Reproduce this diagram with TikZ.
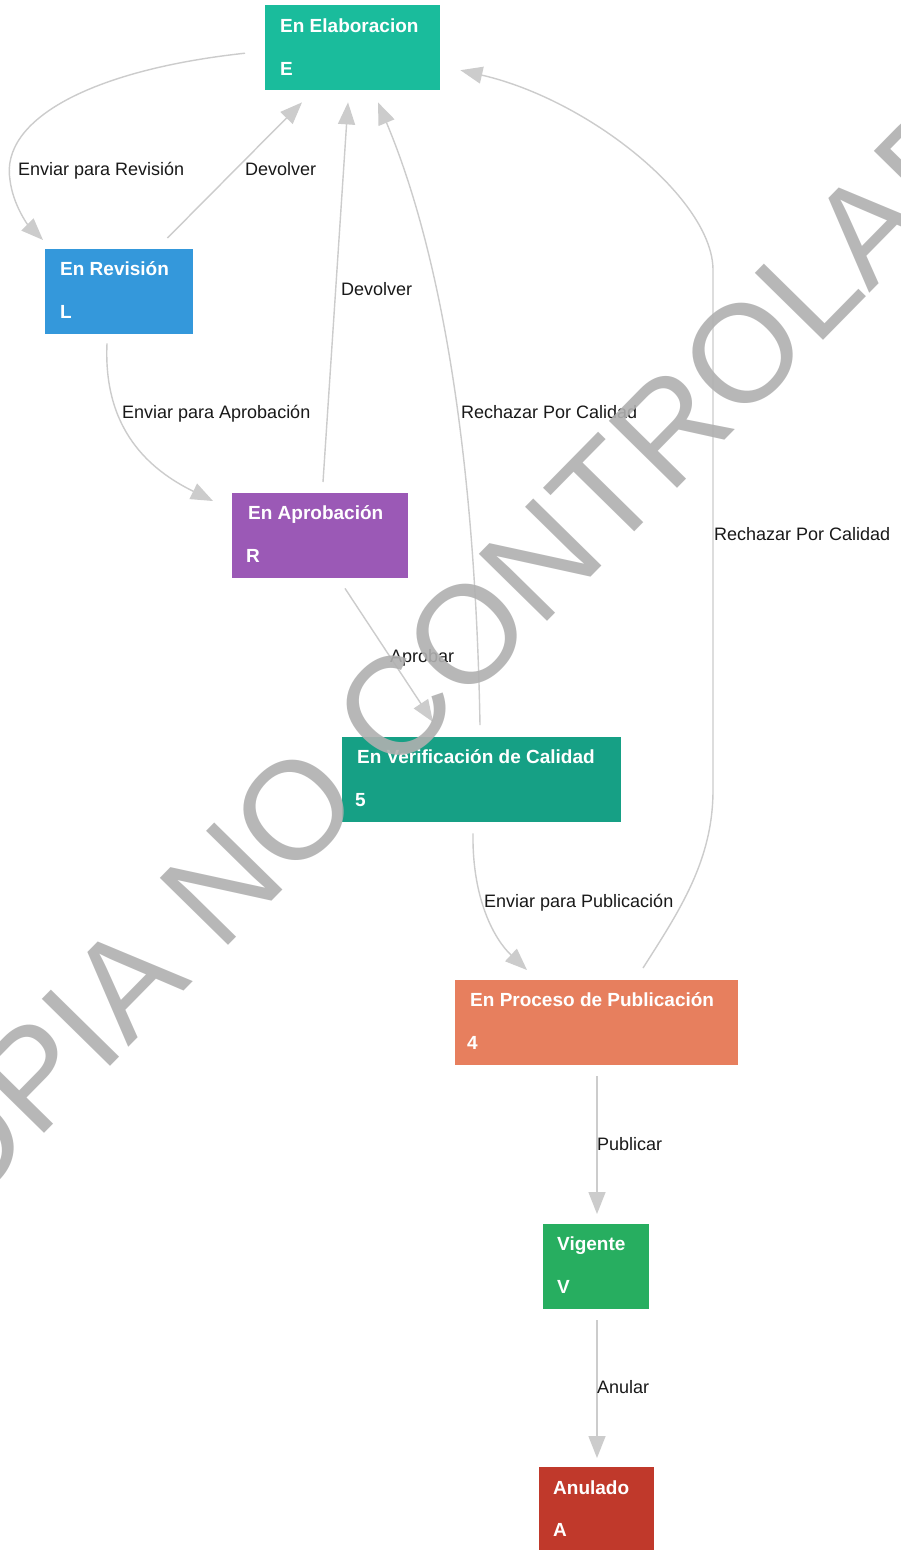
\documentclass[tikz,border=0pt]{standalone}
\usepackage{fontspec}
\setmainfont{Liberation Sans}
\usetikzlibrary{calc,arrows.meta}
\definecolor{cE}{HTML}{1ABC9C}
\definecolor{cL}{HTML}{3498DB}
\definecolor{cR}{HTML}{9B59B6}
\definecolor{cQ}{HTML}{16A085}
\definecolor{cP}{RGB}{231,127,94}
\definecolor{cV}{HTML}{27AE60}
\definecolor{cA}{HTML}{C0392B}
\definecolor{edgegray}{RGB}{204,204,204}
\definecolor{wmgray}{RGB}{176,176,176}
\begin{document}
\begin{tikzpicture}[x=1pt,y=-1pt,
  box/.style={draw=none, rectangle, anchor=north west, inner sep=0pt, minimum height=85pt},
  ttl/.style={anchor=base west, inner sep=0pt, text=white, font=\fontsize{19}{22}\selectfont\bfseries},
  lbl/.style={anchor=base west, inner sep=0pt, text=black!90, font=\fontsize{18}{21}\selectfont},
  conn/.style={draw=edgegray, line width=1.4pt, -{Triangle[length=22pt,width=17pt,fill=edgegray]}}]
\useasboundingbox (0,0) rectangle (901,1550);
\fill[white] (0,0) rectangle (901,1550);

% nodes
\node[box, fill=cE, minimum width=175pt] (E) at (265,5) {};
\node[ttl] (Et) at ($(E.north west)+(15,27)$) {En Elaboracion};
\node[ttl] (Ec) at ($(E.north west)+(15,70)$) {E};

\node[box, fill=cL, minimum width=148pt] (L) at (45,249) {};
\node[ttl] (Lt) at ($(L.north west)+(15,26)$) {En Revisión};
\node[ttl] (Lc) at ($(L.north west)+(15,69)$) {L};

\node[box, fill=cR, minimum width=176pt] (R) at (232,493) {};
\node[ttl] (Rt) at ($(R.north west)+(16,26)$) {En Aprobación};
\node[ttl] (Rc) at ($(R.north west)+(14,69)$) {R};

\node[box, fill=cQ, minimum width=279pt] (Q) at (342,737) {};
\node[ttl] (Qt) at ($(Q.north west)+(15,26)$) {En Verificación de Calidad};
\node[ttl] (Qc) at ($(Q.north west)+(13,69)$) {5};

\node[box, fill=cP, minimum width=283pt] (P) at (455,980) {};
\node[ttl] (Pt) at ($(P.north west)+(15,26)$) {En Proceso de Publicación};
\node[ttl] (Pc) at ($(P.north west)+(12,69)$) {4};

\node[box, fill=cV, minimum width=106pt] (V) at (543,1224) {};
\node[ttl] (Vt) at ($(V.north west)+(14,26)$) {Vigente};
\node[ttl] (Vc) at ($(V.north west)+(14,69)$) {V};

\node[box, fill=cA, minimum width=115pt] (A) at (539,1467) {};
\node[ttl] (At) at ($(A.north west)+(14,27)$) {Anulado};
\node[ttl] (Ac) at ($(A.north west)+(14,69)$) {A};

% connectors
\draw[conn] ($(E.west)+(-20,5.5)$) .. controls (90,70) and (0,120) .. (10,180)
            .. controls (13,205) and (28,225) .. ($(L.north west)+(-2,-9)$);
\draw[conn] ($(L.north east)+(-26,-11)$) -- ($(E.south west)+(37,12)$);
\draw[conn] ($(L.south west)+(62,9)$) .. controls (103,430) and (150,470) .. ($(R.north west)+(-19,8)$);
\draw[conn] ($(R.north west)+(91,-11)$) -- ($(E.south west)+(83,12)$);
\draw[conn] ($(Q.north west)+(138,-12)$) .. controls (475,450) and (440,250) .. ($(E.south west)+(113,12)$);
\draw[conn] ($(P.north west)+(188,-12)$) .. controls (680,910) and (713,860) .. (713,790)
            -- (713,270) .. controls (713,200) and (590,100) .. ($(E.east)+(20,22.5)$);
\draw[conn] ($(R.south west)+(113,10)$) -- ($(Q.north west)+(91,-15)$);
\draw[conn] ($(Q.south west)+(131,11)$) .. controls (472,900) and (495,940) .. ($(P.north west)+(72,-10)$);
\draw[conn] ($(P.south west)+(142,11)$) -- ($(V.north west)+(54,-10)$);
\draw[conn] ($(V.south west)+(54,11)$) -- ($(A.north west)+(58,-9)$);

% labels
\node[lbl] (l1) at (18,175) {Enviar para Revisión};
\node[lbl] (l2) at (245,175) {Devolver};
\node[lbl] (l3) at (341,295) {Devolver};
\node[lbl] (l4) at (122,418) {Enviar para Aprobación};
\node[lbl] (l5) at (461,418) {Rechazar Por Calidad};
\node[lbl] (l6) at (714,540) {Rechazar Por Calidad};
\node[lbl] (l7) at (390,662) {Aprobar};
\node[lbl] (l8) at (484,907) {Enviar para Publicación};
\node[lbl] (l9) at (597,1150) {Publicar};
\node[lbl] (l10) at (597,1393) {Anular};

% watermark
\begin{scope}
\clip (0,0) rectangle (901,1550);
\node[rotate=45.5, inner sep=0pt, text=wmgray, text opacity=0.9,
      font=\fontsize{139}{139}\selectfont] (wm) at (446,656) {COPIA NO CONTROLADA};
\end{scope}
\end{tikzpicture}
\end{document}
